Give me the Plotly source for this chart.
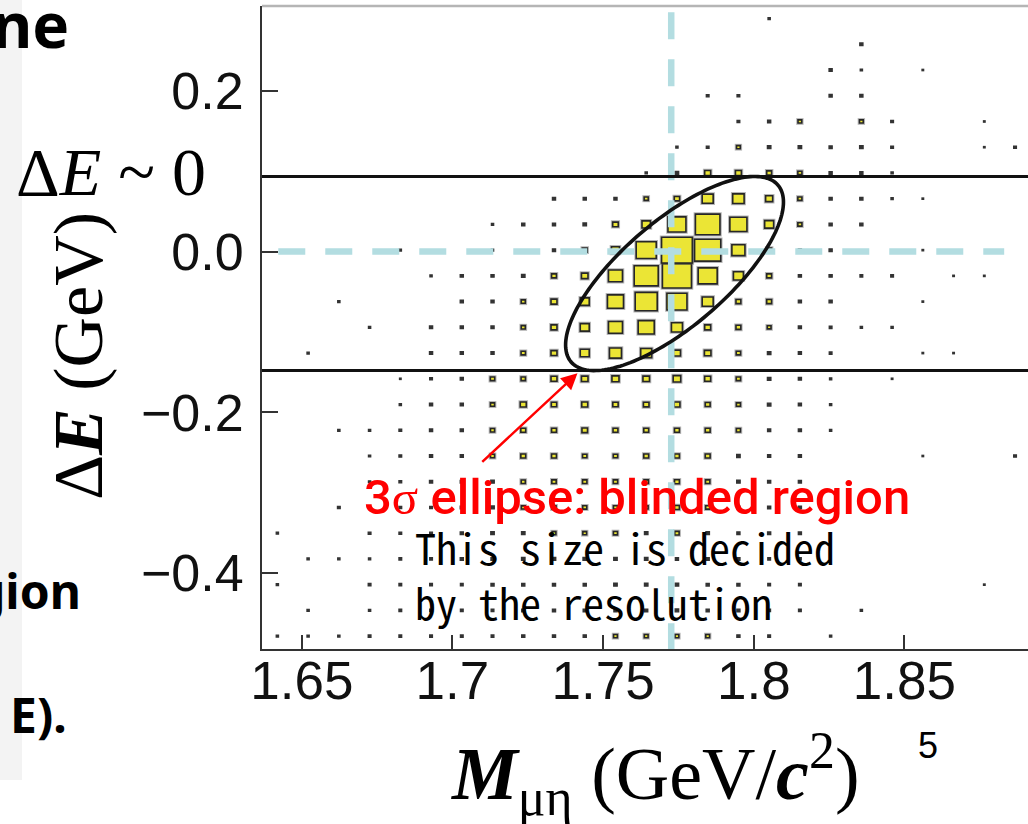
import numpy as np
import plotly.graph_objects as go

# ---------------- data ----------------
# 25 x 25 histogram: M_mu_eta bins (GeV/c^2) and Delta E bins (GeV)
M_LO, M_BIN, N_M = 1.6368, 0.0102, 25
DE_LO, DE_BIN, N_DE = -0.4943, 0.032, 25

# bin contents, rows listed from the highest Delta E bin (top) to the lowest (bottom)
counts_top_to_bottom = [
    [0,0,0,0,0,0,0,0,0,0,0,0,0,0,0,0,2,0,0,0,0,0,0,0,0],
    [0,0,0,0,0,0,0,0,0,0,0,0,0,0,0,0,0,0,0,4,0,0,0,0,0],
    [0,0,0,0,0,0,0,0,0,0,0,0,0,0,0,0,0,0,4,2,0,1,0,0,0],
    [0,0,0,0,0,0,0,0,0,0,0,0,0,0,3,3,0,0,4,4,0,0,0,0,0],
    [0,0,0,0,0,0,0,0,0,0,0,0,0,0,0,3,4,6,0,6,3,0,0,1,0],
    [0,0,0,0,0,0,0,0,0,0,0,0,0,2,3,6,5,5,4,5,3,0,0,1,3],
    [0,0,0,0,0,0,0,0,0,0,0,0,2,5,15,15,10,7,4,4,2,0,0,0,0],
    [0,0,0,0,0,0,0,0,0,4,4,4,7,12,51,55,21,7,4,4,2,1,0,0,0],
    [0,0,0,0,0,0,0,2,4,4,5,13,30,137,255,123,34,7,4,4,0,0,0,0,0],
    [0,0,0,0,2,0,0,2,0,4,10,27,170,400,290,72,10,4,4,0,0,1,0,0,0],
    [0,0,0,0,0,2,4,4,5,10,18,83,244,357,153,42,10,4,4,3,3,0,1,1,0],
    [0,0,2,0,0,0,4,4,7,15,34,109,205,170,51,10,10,4,4,0,0,1,0,0,0],
    [0,0,0,2,0,4,4,4,7,15,34,83,109,51,15,10,6,4,3,2,2,0,0,0,0],
    [0,2,0,0,0,4,4,4,8,15,34,61,51,21,18,8,5,4,3,0,0,1,1,0,0],
    [0,0,0,0,1,3,4,8,8,15,18,21,18,24,15,8,5,4,2,0,1,0,0,0,0],
    [0,0,0,0,2,4,4,7,15,12,15,12,13,15,10,7,5,4,2,0,0,0,0,0,0],
    [0,0,2,2,3,4,4,7,10,10,13,10,10,10,10,7,4,4,2,0,0,0,0,0,0],
    [0,0,0,2,3,4,4,7,10,10,8,8,10,10,10,5,4,4,0,0,0,1,0,0,3],
    [0,0,0,2,3,4,4,5,7,8,8,8,8,10,8,5,4,4,0,0,0,0,0,0,0],
    [0,0,3,0,3,3,4,5,6,7,7,7,6,10,7,4,4,4,0,0,0,0,0,0,0],
    [2,0,0,3,3,3,4,5,5,6,6,7,5,8,5,4,4,4,0,0,0,0,0,0,0],
    [0,2,2,2,3,3,4,4,5,5,5,5,5,4,4,4,3,3,0,0,0,0,0,0,0],
    [2,0,0,3,3,3,3,4,4,4,4,5,5,5,4,4,3,3,0,0,0,0,0,1,0],
    [0,2,0,2,3,3,3,3,4,4,4,4,4,5,4,4,3,3,0,2,0,0,0,0,0],
    [2,2,2,3,3,3,3,3,4,4,4,6,6,6,6,4,3,0,2,0,0,0,0,0,0],
]

x_tick_vals = [1.65, 1.70, 1.75, 1.80, 1.85]
x_tick_text = ["1.65", "1.7", "1.75", "1.8", "1.85"]
y_tick_vals = [-0.4, -0.2, 0.0, 0.2]
y_tick_text = ["\u22120.4", "\u22120.2", "0.0", "0.2"]

# reference lines / signal region
M_TAU_LINE = 1.7726
DE_ZERO_LINE = 0.0
# 3 sigma ellipse parameters
ELL_CM, ELL_CE = 1.7737, -0.0274
ELL_SM, ELL_SE, ELL_RHO, ELL_NSIG = 0.01205, 0.04023, 0.736, 3.0

X_RANGE = [1.6368, 1.8910]
Y_RANGE = [-0.4943, 0.3053]

# ---------------- figure ----------------
counts = np.array(counts_top_to_bottom[::-1], dtype=float)  # row 0 = lowest Delta E
cmax = counts.max()
m_centers = M_LO + M_BIN * (np.arange(N_M) + 0.5)
de_centers = DE_LO + DE_BIN * (np.arange(N_DE) + 0.5)

W, H, L, B, T = 1028, 824, 262, 175, 6
PW, PH = W - L, H - T - B


def px(xp):
    return (xp - L) / PW


def py(yp):
    return (H - B - yp) / PH


shapes = []
# light strip at far left of the slide
shapes.append(dict(type="rect", xref="paper", yref="paper", x0=px(0), x1=px(22),
                   y0=py(780), y1=py(0), fillcolor="#f3f3f3", line=dict(width=0), layer="below"))

YELLOW = "#ebe535"
for j in range(N_DE):
    for i in range(N_M):
        c = counts[j, i]
        if c <= 0:
            continue
        f = np.sqrt(c / cmax)
        hw = 0.5 * f * M_BIN
        hh = 0.5 * f * DE_BIN
        small = f < 0.12
        if not small:
            # soft grey halo like the resampled original
            shapes.append(dict(type="rect", xref="x", yref="y",
                               x0=m_centers[i] - hw, x1=m_centers[i] + hw,
                               y0=de_centers[j] - hh, y1=de_centers[j] + hh,
                               fillcolor="rgba(0,0,0,0)",
                               line=dict(color="rgba(90,90,90,0.45)", width=3.6)))
        shapes.append(dict(type="rect", xref="x", yref="y",
                           x0=m_centers[i] - hw, x1=m_centers[i] + hw,
                           y0=de_centers[j] - hh, y1=de_centers[j] + hh,
                           fillcolor=YELLOW if not small else "#333333",
                           line=dict(color="#262626" if not small else "#333333",
                                     width=1.6 if not small else 1.4)))

CYAN = "#b3dde1"
shapes.append(dict(type="line", xref="x", yref="y", x0=1.6422, x1=1.8831,
                   y0=DE_ZERO_LINE, y1=DE_ZERO_LINE,
                   line=dict(color=CYAN, width=6.5, dash="27px,20px")))
shapes.append(dict(type="line", xref="x", yref="y", x0=M_TAU_LINE, x1=M_TAU_LINE,
                   y0=0.2975, y1=-0.4943,
                   line=dict(color=CYAN, width=6.5, dash="27px,20px")))

de_hi = ELL_CE + ELL_NSIG * ELL_SE
de_lo = ELL_CE - ELL_NSIG * ELL_SE
for yv in (de_hi, de_lo):
    shapes.append(dict(type="line", xref="paper", yref="y", x0=0, x1=1, y0=yv, y1=yv,
                       line=dict(color="#111111", width=3)))

t = np.linspace(0, 2 * np.pi, 181)
ex = ELL_CM + ELL_NSIG * ELL_SM * np.cos(t)
ey = ELL_CE + ELL_NSIG * ELL_SE * (ELL_RHO * np.cos(t) + np.sqrt(1 - ELL_RHO ** 2) * np.sin(t))
path = "M " + " L ".join(f"{a:.5f},{b:.5f}" for a, b in zip(ex, ey)) + " Z"
shapes.append(dict(type="path", xref="x", yref="y", path=path,
                   line=dict(color="#111111", width=3.6)))

# top frame
shapes.append(dict(type="line", xref="paper", yref="paper", x0=0, x1=1, y0=1, y1=1,
                   line=dict(color="#b5b5b5", width=2.5)))

fig = go.Figure()
fig.add_trace(go.Scatter(x=[None], y=[None], showlegend=False, hoverinfo="skip"))

SERIF = "Liberation Serif, Times New Roman, serif"
SANS = "Liberation Sans, Arial, sans-serif"
annotations = [
    dict(text="\u0394<i>E</i> ~ 0", xref="paper", yref="paper", x=px(14), y=py(172),
         xanchor="left", yanchor="middle", showarrow=False,
         font=dict(family=SERIF, size=68, color="#000")),
    dict(text="\u0394<b><i>E</i></b> (GeV)", xref="paper", yref="paper", x=px(78), y=py(356),
         xanchor="center", yanchor="middle", showarrow=False, textangle=-90,
         font=dict(family=SERIF, size=70, color="#000")),
    dict(text="<b><i>M</i></b><sub>\u03bc\u03b7</sub> (GeV/<b><i>c</i></b><sup>2</sup>)",
         xref="paper", yref="paper", x=px(655), y=py(774),
         xanchor="center", yanchor="middle", showarrow=False,
         font=dict(family=SERIF, size=74, color="#000")),
    dict(text="5", xref="paper", yref="paper", x=px(928), y=py(745),
         xanchor="center", yanchor="middle", showarrow=False,
         font=dict(family=SANS, size=36, color="#000")),
    dict(text="ne", xref="paper", yref="paper", x=px(71), y=py(24),
         xanchor="right", yanchor="middle", showarrow=False,
         font=dict(family="Noto Sans", size=62, color="#000", weight="bold")),
    dict(text="gion", xref="paper", yref="paper", x=px(83), y=py(590),
         xanchor="right", yanchor="middle", showarrow=False,
         font=dict(family="Noto Sans", size=48, color="#000", weight="bold")),
    dict(text="E).", xref="paper", yref="paper", x=px(69), y=py(714),
         xanchor="right", yanchor="middle", showarrow=False,
         font=dict(family="Noto Sans", size=48, color="#000", weight="bold")),
    dict(text="3<span style=\"font-family:Liberation Serif\">\u03c3</span> ellipse: blinded region",
         xref="paper", yref="paper", x=px(362), y=py(497),
         xanchor="left", yanchor="middle", showarrow=False,
         font=dict(family="Roboto, Noto Sans", size=49, color="#ff0000", weight=500)),
    dict(text="This size is decided<br>by the resolution",
         xref="paper", yref="paper", x=px(413), y=py(574),
         xanchor="left", yanchor="middle", align="left", showarrow=False,
         font=dict(family="Noto Sans Mono CJK JP, Liberation Mono, monospace", size=42, color="#000")),
    dict(text="", x=1.7415, y=-0.1513, ax=1.7094, ay=-0.2633, xref="x", yref="y",
         axref="x", ayref="y", showarrow=True, arrowhead=2, arrowsize=1.3,
         arrowwidth=2.5, arrowcolor="#ff0000", standoff=0),
]

fig.update_layout(
    width=W, height=H,
    margin=dict(l=L, r=0, t=T, b=B),
    paper_bgcolor="white", plot_bgcolor="white",
    showlegend=False,
    shapes=shapes,
    annotations=annotations,
    xaxis=dict(range=X_RANGE, showgrid=False, zeroline=False,
               showline=True, linecolor="#333333", linewidth=2,
               ticks="inside", ticklen=14, tickwidth=2, tickcolor="#333333",
               tickvals=x_tick_vals, ticktext=x_tick_text, ticklabelstandoff=-16,
               tickfont=dict(family=SANS, size=53, color="#111")),
    yaxis=dict(range=Y_RANGE, showgrid=False, zeroline=False,
               showline=True, linecolor="#333333", linewidth=2,
               ticks="inside", ticklen=16, tickwidth=2, tickcolor="#333333",
               tickvals=y_tick_vals, ticktext=y_tick_text, ticklabelstandoff=6,
               tickfont=dict(family=SANS, size=52, color="#111")),
)

fig.write_html("out.html", config={"displayModeBar": False},
               post_script="document.body.style.margin='0px';")
